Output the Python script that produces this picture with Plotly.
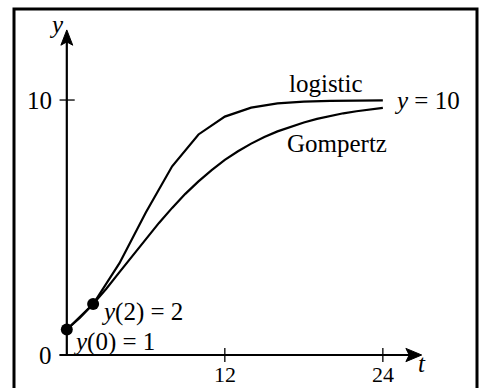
import plotly.graph_objects as go

# Growth curves with y(0)=1, y(2)=2 and carrying capacity y=10
t_logistic = [0, 2, 4, 6, 8, 10, 12, 14, 16, 18, 20, 22, 24]
y_logistic = [1.0, 2.0, 3.60, 5.59, 7.40, 8.65, 9.35, 9.70, 9.87, 9.94, 9.97, 9.99, 9.99]

t_gompertz = list(range(0, 25))
y_gompertz = [1.00, 1.46, 2.00, 2.60, 3.25, 3.90, 4.56, 5.18, 5.77, 6.32, 6.81,
              7.25, 7.65, 7.99, 8.29, 8.55, 8.77, 8.96, 9.12, 9.26, 9.38,
              9.48, 9.56, 9.63, 9.69]

t_points = [0, 2]
y_points = [1, 2]
point_labels = ["<i>y</i>(0) = 1", "<i>y</i>(2) = 2"]

x_ticks = [12, 24]
y_ticks = [0, 10]
limit = 10

FONT = "Liberation Serif, Times New Roman, serif"
FS = 25
INK = "black"

fig = go.Figure()
fig.add_trace(go.Scatter(x=t_logistic, y=y_logistic, mode="lines",
                         line=dict(color=INK, width=2.2), hoverinfo="skip"))
fig.add_trace(go.Scatter(x=t_gompertz, y=y_gompertz, mode="lines",
                         line=dict(color=INK, width=2.2), hoverinfo="skip"))
fig.add_trace(go.Scatter(x=t_points, y=y_points, mode="markers",
                         marker=dict(color=INK, size=12), hoverinfo="skip"))

shapes = []
# outer frame
shapes.append(dict(type="rect", xref="paper", yref="paper", x0=0, x1=1, y0=-0.1, y1=1,
                   line=dict(color=INK, width=3)))
# axes
shapes.append(dict(type="line", x0=-0.55, x1=26.2, y0=0, y1=0, line=dict(color=INK, width=2.2)))
shapes.append(dict(type="line", x0=0, x1=0, y0=0, y1=12.4, line=dict(color=INK, width=2.2)))
# arrowheads
shapes.append(dict(type="path", path="M 25.75,0.26 L 26.95,0 L 25.75,-0.26 L 26.0,0 Z",
                   fillcolor=INK, line=dict(color=INK, width=1)))
shapes.append(dict(type="path", path="M -0.45,12.15 L 0,12.75 L 0.45,12.15 L 0,12.28 Z",
                   fillcolor=INK, line=dict(color=INK, width=1)))
# ticks
for tx in x_ticks:
    shapes.append(dict(type="line", x0=tx, x1=tx, y0=-0.27, y1=0.27, line=dict(color=INK, width=1.3)))
for ty in y_ticks:
    shapes.append(dict(type="line", x0=-0.55, x1=0 if ty == 0 else 0.6, y0=ty, y1=ty,
                       line=dict(color=INK, width=1.3)))

ann = []
def txt(x, y, s, xanchor="center", yanchor="middle", size=FS):
    ann.append(dict(x=x, y=y, text=s, showarrow=False, xanchor=xanchor, yanchor=yanchor,
                    font=dict(family=FONT, size=size, color=INK)))

for tx in x_ticks:
    txt(tx, -0.75, str(tx), size=22)
for ty in y_ticks:
    txt(-0.95, ty, str(ty), xanchor="right")
txt(-0.75, 12.95, "<i>y</i>")
txt(26.5, -0.35, "<i>t</i>", xanchor="left")
txt(24.7, limit, "<i>y</i> = 10", xanchor="left")
txt(19.7, 10.65, "logistic")
txt(20.55, 8.3, "Gompertz")
txt(0.3, 0.52, point_labels[0], xanchor="left")
txt(2.45, 1.68, point_labels[1], xanchor="left")

fig.update_layout(
    width=480, height=388,
    margin=dict(l=14, r=3, t=9, b=0),
    paper_bgcolor="white", plot_bgcolor="white",
    showlegend=False,
    xaxis=dict(visible=False, range=[-4.01, 31.15], fixedrange=True),
    yaxis=dict(visible=False, range=[-1.294, 13.57], fixedrange=True),
    shapes=shapes, annotations=ann,
)
fig.write_html("out.html")
